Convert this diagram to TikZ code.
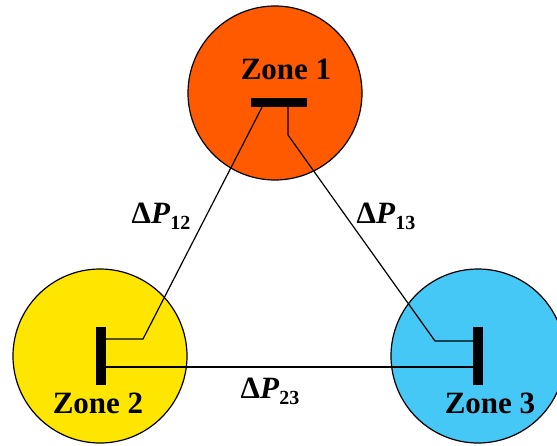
\documentclass[tikz,border=0pt]{standalone}
\usepackage{fontspec}
\setmainfont{Liberation Serif}
\usepackage{tikz}
\usetikzlibrary{positioning}

\definecolor{zoneA}{HTML}{FF5A00}
\definecolor{zoneB}{HTML}{FFE600}
\definecolor{zoneC}{HTML}{45C8F5}

\newcommand{\dP}[1]{\textbf{Δ\textit{P}\raisebox{-6pt}{\fontsize{20}{20}\selectfont #1}}}

\begin{document}
\begin{tikzpicture}[
			x=1pt, y=-1pt,
			every node/.style={font=\fontsize{31}{31}\selectfont\bfseries, inner sep=0pt},
			zone/.style={circle, draw, line width=1.2pt, minimum size=174pt},
			hbus/.style={rectangle, fill=black, minimum width=56pt, minimum height=9pt},
			vbus/.style={rectangle, fill=black, minimum width=10pt, minimum height=58pt},
			tie/.style={line width=1.2pt}
			]
			\useasboundingbox (0,0) rectangle (557,445);
			
			\node[zone, fill=zoneA] (z1) at (275,93) {};
			\node[zone, fill=zoneB] (z2) at (100,356) {};
			\node[zone, fill=zoneC] (z3) at (478,356) {};
			
			\node[hbus] (b1) at (279,102.5) {};
			\node[vbus] (b2) at (101,356) {};
			\node[vbus] (b3) at (478,356) {};
			
			\node[anchor=base] (n1) at (286,79) {Zone 1};
			\node[anchor=base] (n2) at (98,413) {Zone 2};
			\node[anchor=base] (n3) at (490,413) {Zone 3};
			
			% bends of the tie lines
			\coordinate (k12) at (143,339);
			\coordinate (k13a) at (288,135);
			\coordinate (k13b) at (435,341);
			
			\draw[tie] (b2.east |- k12) -- (k12) -- (b1.south -| 262,0);
			\draw[tie] (b1.south -| k13a) -- (k13a) -- (k13b) -- (b3.west |- k13b);
			\draw[tie] (b2.east |- 0,367) -- (b3.west |- 0,367);
			
			\node[anchor=base] (p12) at (161,223) {\dP{12}};
			\node[anchor=base] (p13) at (386,223) {\dP{13}};
			\node[anchor=base] (p23) at (270,398) {\dP{23}};
		\end{tikzpicture}
\end{document}
